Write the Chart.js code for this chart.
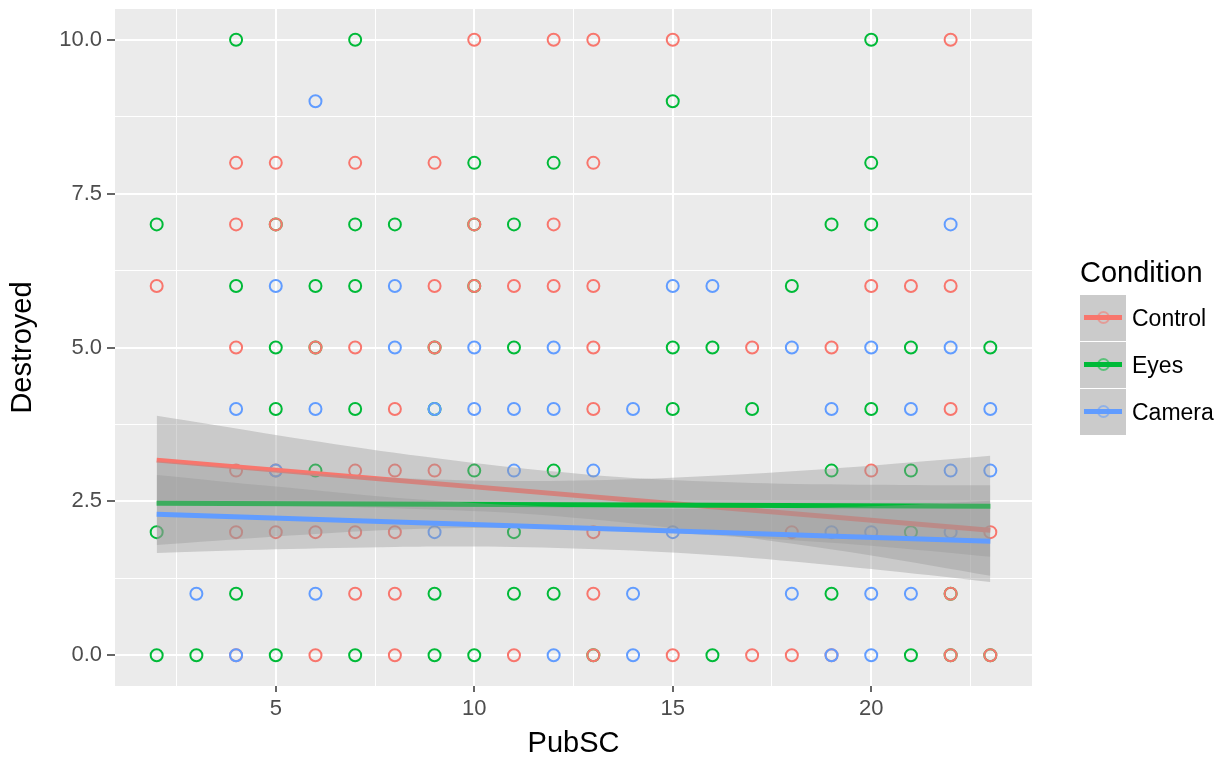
<!DOCTYPE html>
<html>
<head>
<meta charset="utf-8">
<script src="https://cdn.jsdelivr.net/npm/chart.js@4.4.1/dist/chart.umd.min.js"></script>
<style>
  html, body { margin: 0; padding: 0; background: #fff; }
  #wrap { position: relative; width: 1227px; height: 758px; font-family: "Liberation Sans", Arial, sans-serif; }
  #legend { position: absolute; left: 1080px; top: 256px; }
  #legend .title { font-size: 29px; color: #000; margin-bottom: 6px; }
  #legend .row { display: flex; align-items: center; height: 46px; margin-bottom: 1px; }
  #legend .key { position: relative; width: 46px; height: 46px; background: #cbcbcb; }
  #legend .key .ln { position: absolute; left: 4px; right: 4px; top: 20px; height: 5px; }
  #legend .key .dot { position: absolute; left: 17px; top: 16px; width: 9px; height: 9px; border-radius: 50%; border: 2px solid; opacity: .55; }
  #legend .lab { font-size: 23px; margin-left: 6px; color: #000; }
</style>
</head>
<body>
<div id="wrap">
  <canvas id="chart"></canvas>
  <div id="legend"></div>
</div>
<script>
// PubSC values per Destroyed level, one list per condition
const controlPts = {
  10: [10, 12, 13, 15, 22],
  8: [4, 5, 7, 9, 13],
  7: [4, 5, 10, 12],
  6: [2, 9, 10, 11, 12, 13, 20, 21, 22],
  5: [4, 6, 7, 9, 13, 17, 19],
  4: [8, 13, 22],
  3: [4, 5, 7, 8, 9, 20],
  2: [4, 5, 6, 7, 8, 13, 18, 23],
  1: [7, 8, 13, 22],
  0: [4, 6, 8, 11, 13, 15, 17, 18, 19, 22, 23]
};
const eyesPts = {
  10: [4, 7, 20],
  9: [15],
  8: [10, 12, 20],
  7: [2, 5, 7, 8, 10, 11, 19, 20],
  6: [4, 6, 7, 10, 18],
  5: [5, 6, 9, 11, 15, 16, 21, 23],
  4: [5, 7, 9, 15, 17, 20],
  3: [6, 10, 12, 19, 21],
  2: [2, 11, 21],
  1: [4, 9, 11, 12, 19, 22],
  0: [2, 3, 5, 7, 9, 10, 13, 16, 21, 22, 23]
};
const cameraPts = {
  9: [6],
  7: [22],
  6: [5, 8, 15, 16],
  5: [8, 10, 12, 18, 20, 22],
  4: [4, 6, 9, 10, 11, 12, 14, 19, 21, 23],
  3: [5, 11, 13, 22, 23],
  2: [9, 15, 19, 20, 22],
  1: [3, 6, 14, 18, 20, 21],
  0: [4, 12, 14, 19, 20]
};

// linear fits (ends at PubSC 2 and 23)
const fitX = [2, 23];
const controlFit = [3.17, 2.03];
const eyesFit = [2.47, 2.42];
const cameraFit = [2.29, 1.85];

// confidence band edges
const bandX = [2, 5, 8, 11, 14, 17, 20, 23];
const controlHi = [3.89, 3.58, 3.29, 3.05, 2.88, 2.80, 2.77, 2.76];
const controlLo = [2.45, 2.43, 2.39, 2.31, 2.14, 1.90, 1.62, 1.29];
const eyesHi = [3.15, 2.99, 2.88, 2.83, 2.86, 2.95, 3.08, 3.24];
const eyesLo = [1.79, 1.93, 2.04, 2.07, 2.02, 1.91, 1.78, 1.60];
const cameraHi = [2.93, 2.74, 2.56, 2.44, 2.38, 2.38, 2.42, 2.51];
const cameraLo = [1.66, 1.72, 1.76, 1.76, 1.70, 1.58, 1.40, 1.19];

const xTicks = [5, 10, 15, 20];
const xMinor = [2.5, 7.5, 12.5, 17.5, 22.5];
const yTicks = [0, 2.5, 5, 7.5, 10];
const yMinor = [1.25, 3.75, 6.25, 8.75];

const conditions = ['Control', 'Eyes', 'Camera'];
const colors = ['#F8766D', '#00BA38', '#619CFF'];

function toXY(obj) {
  const out = [];
  Object.keys(obj).forEach(y => obj[y].forEach(x => out.push({x: x, y: +y})));
  return out;
}
function zip(xs, ys) {
  return xs.map((x, i) => ({x: x, y: ys[i]}));
}

function pointSet(label, pts, color, order) {
  return {
    label: label, data: toXY(pts), order: order,
    showLine: false, pointStyle: 'circle', pointRadius: 6, pointHoverRadius: 6,
    pointBorderWidth: 2, borderColor: color, backgroundColor: 'transparent'
  };
}
function bandSet(hi, lo, order) {
  return [
    { data: zip(bandX, hi), order: order, showLine: true, fill: '+1', tension: 0.3,
      borderColor: 'transparent', borderWidth: 0, pointRadius: 0, backgroundColor: 'rgba(153,153,153,0.4)' },
    { data: zip(bandX, lo), order: order, showLine: true, fill: false, tension: 0.3,
      borderColor: 'transparent', borderWidth: 0, pointRadius: 0 }
  ];
}
function fitSet(ys, color, order) {
  return { data: zip(fitX, ys), order: order, showLine: true, fill: false,
    borderColor: color, borderWidth: 5, pointRadius: 0 };
}

// ggplot draws each group's ribbon then line, so later ribbons cover earlier lines
const datasets = [
  pointSet('Eyes', eyesPts, colors[1], 103),
  pointSet('Control', controlPts, colors[0], 102),
  pointSet('Camera', cameraPts, colors[2], 101),
  ...bandSet(controlHi, controlLo, 90),
  fitSet(controlFit, colors[0], 89),
  ...bandSet(eyesHi, eyesLo, 80),
  fitSet(eyesFit, colors[1], 79),
  ...bandSet(cameraHi, cameraLo, 70),
  fitSet(cameraFit, colors[2], 69)
];

const panelBg = {
  id: 'panelBg',
  beforeDraw(chart) {
    const a = chart.chartArea, c = chart.ctx;
    c.save();
    c.fillStyle = '#EBEBEB';
    c.fillRect(a.left, a.top, a.right - a.left, a.bottom - a.top);
    c.restore();
  }
};

function gridScale(major, minor, fmt, size, tickLen, pad) {
  return {
    type: 'linear',
    afterBuildTicks: s => { s.ticks = major.concat(minor).map(v => ({value: v})); },
    afterFit: s => {
      if (s.isHorizontal()) s.height = size; else s.width = size;
      s.paddingTop = 0; s.paddingBottom = 0; s.paddingLeft = 0; s.paddingRight = 0;
    },
    border: { display: false },
    grid: {
      color: '#FFFFFF',
      lineWidth: c => minor.includes(c.tick.value) ? 1 : 2,
      tickColor: c => minor.includes(c.tick.value) ? 'rgba(0,0,0,0)' : '#333333',
      tickLength: tickLen,
      tickWidth: 1.5
    },
    ticks: {
      autoSkip: false, maxRotation: 0, padding: pad,
      color: '#4D4D4D',
      font: { family: 'Liberation Sans', size: 22 },
      callback: v => minor.includes(v) ? '' : fmt(v)
    }
  };
}

const xScale = gridScale(xTicks, xMinor, v => String(v), 72, 6, 4);
xScale.min = 0.95; xScale.max = 24.05;
xScale.title = { display: true, text: 'PubSC', color: '#000', padding: {top: 0, bottom: 0},
  font: { family: 'Liberation Sans', size: 29, lineHeight: 1 } };

const yScale = gridScale(yTicks, yMinor, v => v.toFixed(1), 115, 8, 5);
yScale.min = -0.5; yScale.max = 10.5;
yScale.title = { display: true, text: 'Destroyed', color: '#000', padding: {top: 8, bottom: 0},
  font: { family: 'Liberation Sans', size: 29, lineHeight: 1 } };

new Chart(document.getElementById('chart'), {
  type: 'scatter',
  data: { datasets: datasets },
  options: {
    responsive: true,
    maintainAspectRatio: false,
    animation: false,
    layout: { padding: { top: 9, right: 195, left: 0, bottom: 0 } },
    plugins: { legend: { display: false }, tooltip: { enabled: false } },
    scales: { x: xScale, y: yScale }
  },
  plugins: [panelBg]
});

// legend: grey key with line and hollow point, as ggplot shows it
const legend = document.getElementById('legend');
legend.innerHTML = '<div class="title">Condition</div>' + conditions.map((name, i) =>
  '<div class="row"><div class="key"><div class="ln" style="background:' + colors[i] + '"></div>' +
  '<div class="dot" style="border-color:' + colors[i] + '"></div></div>' +
  '<span class="lab">' + name + '</span></div>').join('');
</script>
</body>
</html>
